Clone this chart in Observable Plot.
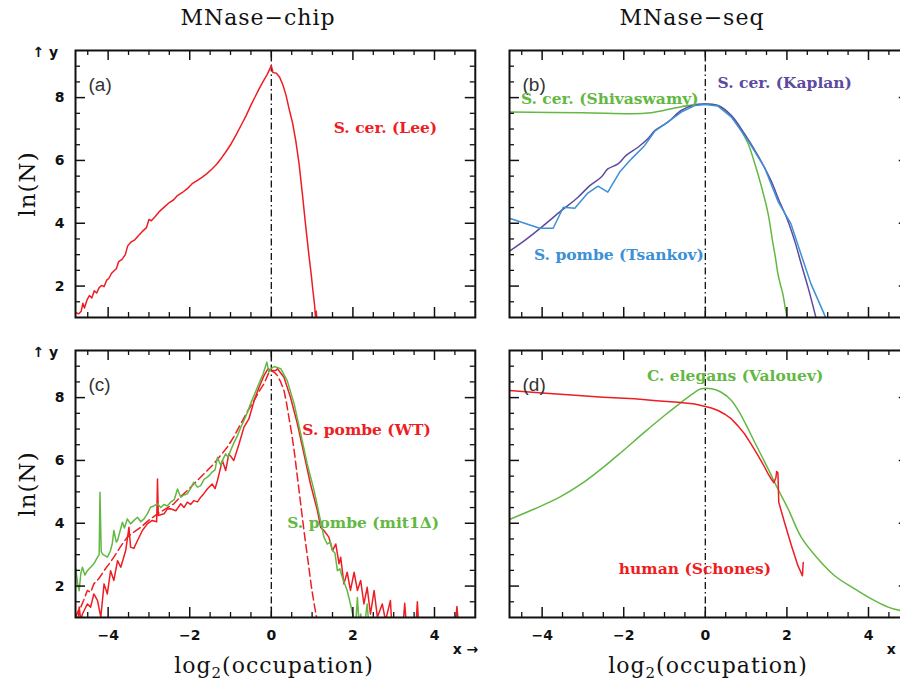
<!DOCTYPE html>
<html>
<head>
<meta charset="utf-8">
<script src="https://cdn.jsdelivr.net/npm/d3@7"></script>
<script src="https://cdn.jsdelivr.net/npm/@observablehq/plot@0.6"></script>
<style>
  html, body { margin: 0; padding: 0; background: #fff; overflow: hidden; }
  #fig { position: relative; width: 900px; height: 682px; overflow: hidden; background: #fff; }
  #fig svg.panel { position: absolute; max-width: none; }
  #fig svg.titles { position: absolute; left: 0; top: 0; }
  g[aria-label="series-label"] text { letter-spacing: 0.6px; }
</style>
</head>
<body>
<div id="fig"></div>
<script>
// ---- axis ticks -------------------------------------------------------
const xMajor = [-4, -2, 0, 2, 4];
const xMinor = [-4.5, -3.5, -3, -2.5, -1.5, -1, -0.5, 0.5, 1, 1.5, 2.5, 3, 3.5, 4.5];
const yMajor = [2, 4, 6, 8];
const yMinor = [1.5, 2.5, 3, 3.5, 4.5, 5, 5.5, 6.5, 7, 7.5, 8.5, 9];

// ---- (a) MNase-chip, S. cerevisiae (Lee) ------------------------------
const lee = [
  [-4.80, 1.15], [-4.72, 1.12], [-4.66, 1.20], [-4.62, 1.45], [-4.58, 1.30], [-4.52, 1.55],
  [-4.46, 1.70], [-4.40, 1.62], [-4.34, 1.85], [-4.28, 1.78], [-4.22, 1.95], [-4.16, 2.02],
  [-4.10, 1.98], [-4.04, 2.18], [-3.98, 2.25], [-3.92, 2.40], [-3.86, 2.48], [-3.80, 2.55],
  [-3.74, 2.78], [-3.66, 2.85], [-3.58, 3.00], [-3.52, 3.28], [-3.44, 3.40], [-3.34, 3.48],
  [-3.26, 3.60], [-3.16, 3.74], [-3.06, 3.86], [-3.00, 4.12], [-2.94, 4.08], [-2.84, 4.22],
  [-2.74, 4.38], [-2.62, 4.52], [-2.50, 4.66], [-2.40, 4.74], [-2.30, 4.88], [-2.18, 4.98],
  [-2.06, 5.10], [-1.94, 5.26], [-1.82, 5.36], [-1.70, 5.46], [-1.58, 5.58], [-1.46, 5.72],
  [-1.34, 5.88], [-1.22, 6.08], [-1.10, 6.30], [-0.98, 6.54], [-0.86, 6.82], [-0.74, 7.12],
  [-0.62, 7.42], [-0.50, 7.76], [-0.40, 8.02], [-0.30, 8.28], [-0.20, 8.52], [-0.10, 8.74],
  [0.00, 9.02], [0.04, 8.80], [0.12, 8.78], [0.20, 8.66], [0.28, 8.42], [0.36, 8.08],
  [0.44, 7.62], [0.52, 7.20], [0.60, 6.62], [0.68, 5.90], [0.76, 4.95], [0.84, 3.95],
  [0.92, 3.00], [0.98, 2.35], [1.02, 1.85], [1.06, 1.40], [1.08, 1.05], [1.10, 1.20], [1.12, 0.90]
];

// ---- (b) MNase-seq, S. cerevisiae / S. pombe ---------------------------
const shivaswamy = [
  [-4.80, 7.54], [-3.00, 7.52], [-1.49, 7.50], [-1.00, 7.60], [-0.42, 7.75], [0.00, 7.80],
  [0.20, 7.78], [0.39, 7.70], [0.55, 7.52], [0.72, 7.27], [0.88, 6.95], [1.05, 6.53],
  [1.17, 6.08], [1.29, 5.57], [1.42, 4.95], [1.54, 4.30], [1.66, 3.34], [1.72, 2.90],
  [1.78, 2.39], [1.84, 2.05], [1.90, 1.75], [1.96, 1.30], [1.99, 1.10], [2.00, 0.90]
];
const kaplan = [
  [-4.80, 3.11], [-4.40, 3.48], [-4.02, 3.87], [-3.53, 4.40], [-3.12, 4.83], [-2.83, 5.20],
  [-2.55, 5.47], [-2.39, 5.73], [-2.14, 5.89], [-1.94, 6.16], [-1.65, 6.42], [-1.41, 6.69],
  [-1.24, 6.95], [-0.92, 7.22], [-0.59, 7.59], [-0.26, 7.77], [0.00, 7.80], [0.31, 7.75],
  [0.64, 7.43], [0.96, 6.85], [1.29, 6.15], [1.61, 5.36], [1.80, 4.75], [2.02, 4.09],
  [2.20, 3.40], [2.35, 2.71], [2.52, 1.95], [2.70, 1.06], [2.74, 0.85]
];
const tsankov = [
  [-4.80, 4.16], [-4.06, 3.84], [-3.73, 3.84], [-3.48, 4.51], [-3.20, 4.48], [-2.88, 4.96],
  [-2.63, 5.18], [-2.39, 4.99], [-2.10, 5.63], [-1.81, 6.05], [-1.49, 6.47], [-1.24, 6.93],
  [-0.92, 7.22], [-0.59, 7.54], [-0.26, 7.75], [0.00, 7.78], [0.31, 7.73], [0.64, 7.38],
  [1.05, 6.63], [1.45, 5.78], [1.78, 4.70], [2.10, 3.98], [2.35, 3.00], [2.59, 2.07],
  [2.80, 1.45], [2.93, 1.06], [2.96, 0.90]
];

// ---- (c) MNase-chip, S. pombe wild type and mit1 deletion -------------
const pombeWT = [
  [-4.80, 1.11], [-4.75, 0.70], [-4.71, 1.33], [-4.67, 0.90], [-4.63, 1.11], [-4.51, 1.43],
  [-4.43, 1.33], [-4.35, 1.75], [-4.26, 1.54], [-4.18, 1.01], [-4.10, 2.07], [-4.02, 1.75],
  [-3.94, 2.49], [-3.86, 2.18], [-3.77, 2.81], [-3.69, 2.60], [-3.57, 3.13], [-3.49, 3.87],
  [-3.45, 3.24], [-3.37, 3.20], [-3.28, 3.45], [-3.16, 3.77], [-3.04, 3.98], [-2.92, 4.09],
  [-2.81, 4.05], [-2.79, 5.41], [-2.77, 4.25], [-2.63, 4.30], [-2.55, 4.45], [-2.47, 4.46],
  [-2.34, 4.40], [-2.22, 4.62], [-2.14, 4.50], [-2.06, 4.67], [-1.98, 4.60], [-1.90, 4.72],
  [-1.81, 4.68], [-1.73, 4.83], [-1.65, 4.95], [-1.57, 5.09], [-1.45, 5.25], [-1.38, 5.10],
  [-1.32, 5.36], [-1.20, 6.00], [-1.12, 5.68], [-1.04, 6.21], [-0.92, 6.00], [-0.79, 6.53],
  [-0.67, 7.06], [-0.55, 7.32], [-0.42, 7.91], [-0.30, 8.33], [-0.18, 8.70], [-0.08, 8.92],
  [0.00, 8.86], [0.11, 8.86], [0.15, 8.92], [0.31, 8.65], [0.47, 8.01], [0.64, 7.16],
  [0.80, 6.21], [0.96, 5.25], [1.13, 4.40], [1.21, 3.87], [1.29, 3.77], [1.41, 3.56],
  [1.50, 3.13], [1.58, 3.34], [1.66, 2.71], [1.70, 2.92], [1.78, 2.07], [1.86, 2.44],
  [1.94, 1.86], [2.03, 2.44], [2.11, 1.86], [2.19, 2.18], [2.27, 1.43], [2.35, 1.96],
  [2.43, 1.11], [2.52, 1.86], [2.60, 1.01], [2.72, 1.43], [2.80, 0.90], [2.92, 1.54],
  [2.96, 0.60], [3.22, 0.60], [3.27, 1.45], [3.32, 0.60], [3.54, 0.60], [3.58, 1.50],
  [3.62, 0.60], [4.50, 0.60], [4.55, 1.35], [4.60, 0.60]
];
const pombeMit1 = [
  [-4.80, 2.60], [-4.75, 2.10], [-4.71, 1.85], [-4.67, 2.40], [-4.63, 2.60], [-4.57, 2.35],
  [-4.51, 2.49], [-4.43, 2.60], [-4.35, 2.71], [-4.26, 2.92], [-4.22, 3.00], [-4.20, 4.99],
  [-4.17, 3.10], [-4.14, 3.02], [-4.02, 2.92], [-3.95, 3.10], [-3.90, 3.34], [-3.86, 3.77],
  [-3.80, 3.40], [-3.77, 3.45], [-3.65, 4.03], [-3.60, 3.85], [-3.53, 4.14], [-3.45, 3.98],
  [-3.36, 4.10], [-3.28, 4.19], [-3.20, 4.05], [-3.12, 4.14], [-3.04, 4.30], [-2.96, 4.51],
  [-2.88, 4.55], [-2.79, 4.62], [-2.71, 4.50], [-2.63, 4.60], [-2.55, 4.55], [-2.47, 4.67],
  [-2.38, 4.75], [-2.30, 5.09], [-2.22, 4.83], [-2.14, 4.90], [-2.06, 4.94], [-1.98, 5.10],
  [-1.90, 5.31], [-1.81, 5.15], [-1.73, 5.20], [-1.65, 5.40], [-1.57, 5.47], [-1.50, 5.55],
  [-1.45, 5.63], [-1.38, 5.70], [-1.32, 6.10], [-1.24, 5.84], [-1.18, 6.05], [-1.12, 6.21],
  [-1.06, 6.10], [-1.00, 6.31], [-0.92, 6.55], [-0.83, 6.79], [-0.75, 7.05], [-0.67, 7.27],
  [-0.59, 7.52], [-0.51, 7.80], [-0.42, 8.08], [-0.34, 8.33], [-0.27, 8.55], [-0.20, 8.76],
  [-0.11, 9.13], [-0.06, 8.81], [0.00, 8.93], [0.07, 8.99], [0.23, 8.92], [0.39, 8.54],
  [0.56, 7.80], [0.72, 6.85], [0.88, 5.89], [1.05, 5.04], [1.17, 4.30], [1.29, 3.56],
  [1.37, 3.34], [1.45, 3.40], [1.50, 3.13], [1.56, 3.05], [1.62, 2.49], [1.68, 2.55],
  [1.74, 2.28], [1.86, 1.86], [1.94, 1.43], [2.01, 1.01], [2.06, 0.60], [2.11, 1.64],
  [2.16, 0.60], [2.19, 1.11], [2.27, 0.60], [2.35, 1.43], [2.40, 0.60], [2.43, 1.00], [2.50, 0.60]
];
const pombeDashed = [
  [-4.80, 1.00], [-4.74, 1.20], [-4.67, 1.33], [-4.60, 1.55], [-4.51, 1.86], [-4.43, 1.80],
  [-4.35, 2.07], [-4.22, 2.25], [-4.10, 2.49], [-3.98, 2.70], [-3.86, 2.92], [-3.70, 3.25],
  [-3.53, 3.56], [-3.37, 3.72], [-3.20, 3.87], [-3.00, 4.10], [-2.79, 4.30], [-2.60, 4.45],
  [-2.39, 4.62], [-2.22, 4.85], [-2.06, 5.04], [-1.90, 5.25], [-1.73, 5.47], [-1.57, 5.68],
  [-1.41, 5.89], [-1.25, 6.15], [-1.08, 6.42], [-0.92, 6.75], [-0.75, 7.16], [-0.59, 7.55],
  [-0.42, 7.91], [-0.30, 8.20], [-0.18, 8.44], [-0.06, 8.80], [0.00, 8.86], [0.08, 8.80],
  [0.15, 8.70], [0.23, 8.50], [0.31, 8.23], [0.37, 7.85], [0.43, 7.38], [0.50, 6.85],
  [0.56, 6.31], [0.62, 5.68], [0.68, 5.04], [0.74, 4.40], [0.80, 3.77], [0.86, 3.18],
  [0.92, 2.60], [0.98, 2.00], [1.05, 1.43], [1.11, 1.00], [1.14, 0.70]
];

// ---- (d) MNase-seq, C. elegans and human -------------------------------
const valouev = [
  [-4.80, 4.12], [-4.18, 4.46], [-3.57, 4.83], [-3.04, 5.25], [-2.55, 5.73], [-2.06, 6.26],
  [-1.49, 6.90], [-1.00, 7.43], [-0.59, 7.85], [-0.26, 8.17], [-0.10, 8.28], [0.15, 8.28],
  [0.39, 8.17], [0.64, 7.91], [0.88, 7.43], [1.21, 6.58], [1.54, 5.73], [1.78, 5.09],
  [2.03, 4.46], [2.35, 3.56], [2.76, 2.87], [3.17, 2.33], [3.66, 1.91], [4.07, 1.59],
  [4.48, 1.33], [4.80, 1.22], [5.00, 1.20]
];
const schones = [
  [-4.80, 8.23], [-4.00, 8.15], [-3.37, 8.09], [-2.50, 8.01], [-1.73, 7.96], [-1.20, 7.90],
  [-0.67, 7.85], [-0.26, 7.80], [0.00, 7.72], [0.15, 7.67], [0.31, 7.59], [0.48, 7.47],
  [0.64, 7.32], [0.80, 7.10], [0.96, 6.85], [1.12, 6.53], [1.29, 6.16], [1.42, 5.87],
  [1.54, 5.57], [1.62, 5.40], [1.68, 5.29], [1.73, 5.45], [1.75, 5.65], [1.78, 5.60],
  [1.80, 4.67], [1.94, 4.03], [2.11, 3.29], [2.27, 2.65], [2.38, 2.33], [2.40, 2.75]
];

// ---- series labels (anchored in data coordinates) ----------------------
const labelsA = [{text: "S. cer. (Lee)", x: 1.53, y: 7.02, color: "#ee1d23"}];
const labelsB = [
  {text: "S. cer. (Kaplan)", x: 0.30, y: 8.48, color: "#5c4a9f"},
  {text: "S. cer. (Shivaswamy)", x: -4.52, y: 7.97, color: "#63b843"},
  {text: "S. pombe (Tsankov)", x: -4.20, y: 3.00, color: "#3b90d6"}
];
const labelsC = [
  {text: "S. pombe (WT)", x: 0.76, y: 6.98, color: "#ee1d23"},
  {text: "S. pombe (mit1Δ)", x: 0.39, y: 4.00, color: "#63b843"}
];
const labelsD = [
  {text: "C. elegans (Valouev)", x: -1.43, y: 8.70, color: "#63b843"},
  {text: "human (Schones)", x: -2.12, y: 2.53, color: "#ee1d23"}
];

const RED = "#ee1d23", GREEN = "#63b843", PURPLE = "#5c4a9f", BLUE = "#3b90d6";

// ---- panel layout -------------------------------------------------------
const FW = 399.8, FH = 267;          // plotting frame size in px
const M = {top: 6, right: 6, bottom: 40, left: 46};
const fig = document.getElementById("fig");
const minus = d => (d < 0 ? "\u2212" + Math.abs(d) : String(d));

function panel({series, labels, tag, showX, showY, left, top}) {
  const marks = [
    Plot.ruleX([0], {stroke: "#111", strokeWidth: 1.3, strokeDasharray: "7,3,1.5,3"}),
    ...series.map(s => Plot.line(s.data, {
      x: d => d[0], y: d => d[1], stroke: s.color, strokeWidth: 1.5,
      strokeDasharray: s.dash, curve: s.curve || "linear", clip: true
    })),
    // inward ticks on all four sides
    Plot.ruleX(xMajor, {x: d => d, insetTop: FH - 10, stroke: "#111", strokeWidth: 1.5}),
    Plot.ruleX(xMinor, {x: d => d, insetTop: FH - 5, stroke: "#111", strokeWidth: 1.3}),
    Plot.ruleX(xMajor, {x: d => d, insetBottom: FH - 10, stroke: "#111", strokeWidth: 1.5}),
    Plot.ruleX(xMinor, {x: d => d, insetBottom: FH - 5, stroke: "#111", strokeWidth: 1.3}),
    Plot.ruleY(yMajor, {y: d => d, insetRight: FW - 10, stroke: "#111", strokeWidth: 1.5}),
    Plot.ruleY(yMinor, {y: d => d, insetRight: FW - 5, stroke: "#111", strokeWidth: 1.3}),
    Plot.ruleY(yMajor, {y: d => d, insetLeft: FW - 10, stroke: "#111", strokeWidth: 1.5}),
    Plot.ruleY(yMinor, {y: d => d, insetLeft: FW - 5, stroke: "#111", strokeWidth: 1.3}),
    Plot.frame({stroke: "#111", strokeWidth: 2}),
    Plot.text([tag], {
      frameAnchor: "top-left", dx: 13, dy: 27, text: d => d, textAnchor: "start",
      fontFamily: "Liberation Sans", fontSize: 19, fill: "#333"
    }),
    ...labels.map(l => Plot.text([l], {
      x: "x", y: "y", text: "text", fill: l.color, textAnchor: "start",
      fontFamily: "DejaVu Serif", fontWeight: "bold", fontSize: 15.5, ariaLabel: "series-label"
    }))
  ];
  if (showY) marks.push(Plot.axisY(yMajor, {
    anchor: "left", tickSize: 0, tickPadding: 11, tickFormat: minus,
    fontFamily: "DejaVu Sans", fontWeight: "bold", fontSize: 14, fill: "#111"
  }));
  if (showX) marks.push(Plot.axisX(xMajor, {
    anchor: "bottom", tickSize: 0, tickPadding: 13, tickFormat: minus,
    fontFamily: "DejaVu Sans", fontWeight: "bold", fontSize: 14, fill: "#111"
  }));
  const svg = Plot.plot({
    width: M.left + FW + M.right,
    height: M.top + FH + M.bottom,
    marginTop: M.top, marginRight: M.right, marginBottom: M.bottom, marginLeft: M.left,
    x: {domain: [-4.8, 5.0], axis: null},
    y: {domain: [1, 9.5], axis: null},
    marks
  });
  svg.classList.add("panel");
  svg.style.left = (left - M.left) + "px";
  svg.style.top = (top - M.top) + "px";
  svg.style.background = "transparent";
  fig.appendChild(svg);
}

panel({
  tag: "(a)", showY: true, showX: false, left: 75, top: 50, labels: labelsA,
  series: [{data: lee, color: RED}]
});
panel({
  tag: "(b)", showY: false, showX: false, left: 508.5, top: 50, labels: labelsB,
  series: [
    {data: shivaswamy, color: GREEN, curve: "catmull-rom"},
    {data: kaplan, color: PURPLE, curve: "catmull-rom"},
    {data: tsankov, color: BLUE}
  ]
});
panel({
  tag: "(c)", showY: true, showX: true, left: 75, top: 350, labels: labelsC,
  series: [
    {data: pombeDashed, color: RED, dash: "8,4"},
    {data: pombeWT, color: RED},
    {data: pombeMit1, color: GREEN}
  ]
});
panel({
  tag: "(d)", showY: false, showX: true, left: 508.5, top: 350, labels: labelsD,
  series: [
    {data: valouev, color: GREEN, curve: "catmull-rom"},
    {data: schones, color: RED}
  ]
});

// ---- column titles and axis titles --------------------------------------
const t = d3.select(fig).append("svg").attr("class", "titles")
  .attr("width", 900).attr("height", 682)
  .style("font-family", "DejaVu Serif").style("fill", "#111");
t.append("text").attr("x", 258).attr("y", 25).attr("text-anchor", "middle")
  .style("font-size", "22px").style("letter-spacing", "1px").text("MNase\u2212chip");
t.append("text").attr("x", 692).attr("y", 25).attr("text-anchor", "middle")
  .style("font-size", "22px").style("letter-spacing", "1px").text("MNase\u2212seq");
for (const cy of [184, 484]) {
  t.append("text").attr("transform", `translate(35,${cy}) rotate(-90)`)
    .attr("text-anchor", "middle").style("font-size", "23px").style("letter-spacing", "1px")
    .text("ln(N)");
}
for (const cx of [274, 708]) {
  const lbl = t.append("text").attr("x", cx).attr("y", 673).attr("text-anchor", "middle")
    .style("font-size", "22px").style("letter-spacing", "1px");
  lbl.append("tspan").text("log");
  lbl.append("tspan").attr("dy", 5).style("font-size", "15px").text("2");
  lbl.append("tspan").attr("dy", -5).text("(occupation)");
}
</script>
</body>
</html>
